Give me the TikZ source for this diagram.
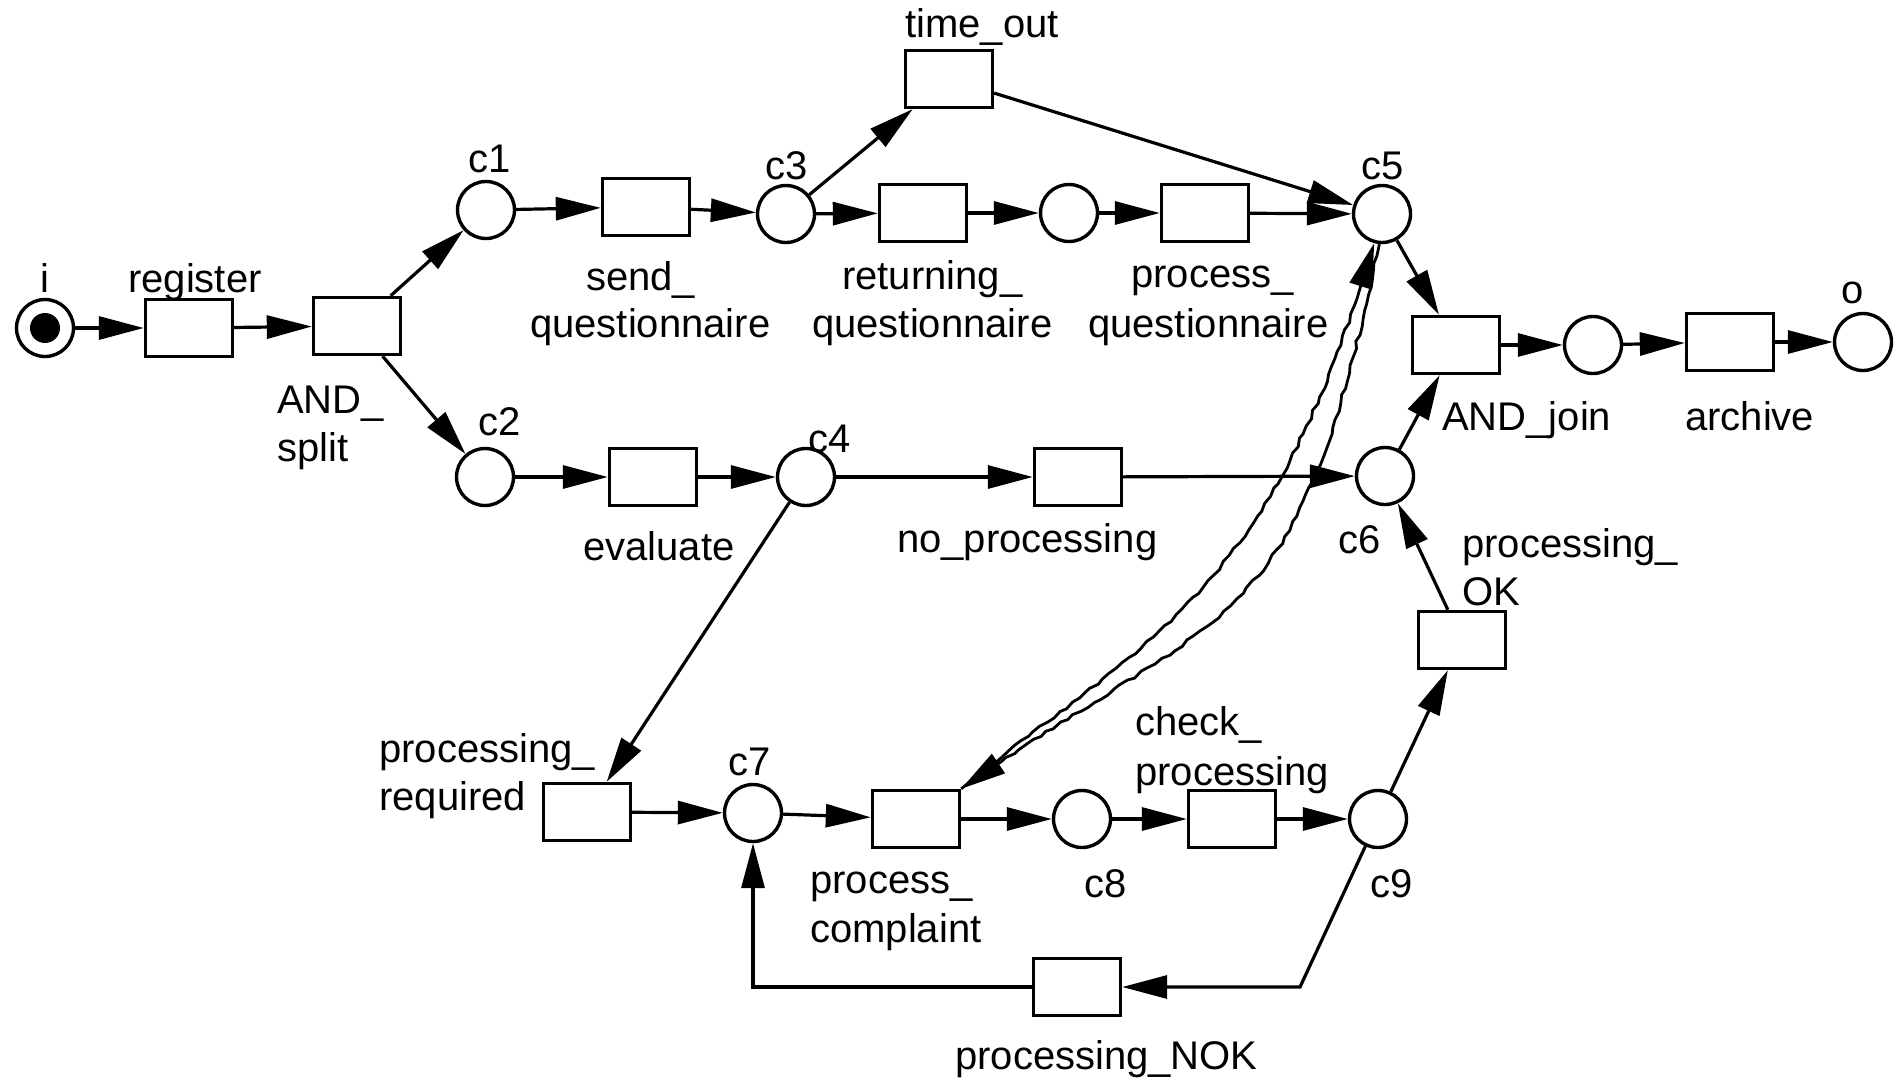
\documentclass[tikz,border=0pt]{standalone}
\usepackage{fontspec}
\setmainfont{Liberation Sans}
\usetikzlibrary{arrows.meta,decorations.pathmorphing}
\begin{document}
\begin{tikzpicture}[x=1pt,y=-1pt,
  every node/.style={font=\fontsize{40}{48}\selectfont},
  place/.style={circle, draw, line width=3.4pt, minimum size=57pt, inner sep=0pt},
  trans/.style={rectangle, draw, line width=3.4pt, minimum width=87pt, minimum height=57pt, inner sep=0pt},
  token/.style={circle, fill=black, minimum size=30pt, inner sep=0pt},
  lbl/.style={inner sep=0pt, anchor=base west},
  lblc/.style={inner sep=0pt, anchor=base},
  lble/.style={inner sep=0pt, anchor=base east},
  flow/.style={line width=3.2pt, -{Triangle[length=45pt,width=23pt]}},
  wavy/.style={line width=2.8pt, decorate,
    decoration={random steps, segment length=8pt, amplitude=1.5pt, pre length=12pt, post length=50pt}}
]
\pgfmathsetseed{11}
\useasboundingbox (0,0) rectangle (1898,1079);

% places
\node[place] (i) at (45,328) {};
\node[token] (tok) at (45,328) {};
\node[place] (c1) at (486,210) {};
\node[place] (c3) at (786,214) {};
\node[place] (pm) at (1069,213) {};
\node[place] (c5) at (1382,214) {};
\node[place] (c2) at (485,477) {};
\node[place] (c4) at (806,477) {};
\node[place] (c6) at (1385,476) {};
\node[place] (pj) at (1593,345) {};
\node[place] (o) at (1863,342) {};
\node[place] (c7) at (753,813) {};
\node[place] (c8) at (1082,819) {};
\node[place] (c9) at (1378,819) {};

% transitions
\node[trans] (register) at (189,328) {};
\node[trans] (andsplit) at (357,326) {};
\node[trans] (sendq) at (646,207) {};
\node[trans] (timeout) at (949,79) {};
\node[trans] (retq) at (923,213) {};
\node[trans] (procq) at (1205,213) {};
\node[trans] (andjoin) at (1456,345) {};
\node[trans] (archive) at (1730,342) {};
\node[trans] (evaluate) at (653,477) {};
\node[trans] (noproc) at (1078,477) {};
\node[trans] (pok) at (1462,640) {};
\node[trans] (preq) at (587,812) {};
\node[trans] (pc) at (916,819) {};
\node[trans] (check) at (1232,819) {};
\node[trans] (pnok) at (1077,987) {};

% labels
\node[lblc] (l_i) at (45,292) {i};
\node[lbl] (l_reg) at (128,292) {register};
\node[lbl] (l_as1) at (277,413) {AND\_};
\node[lbl] (l_as2) at (277,461) {split};
\node[lblc] (l_c1) at (490,172) {c1};
\node[lbl] (l_sq1) at (586,290) {send\_};
\node[lbl] (l_sq2) at (530,337) {questionnaire};
\node[lblc] (l_c3) at (787,179) {c3};
\node[lbl] (l_to) at (905,37) {time\_out};
\node[lbl] (l_rq1) at (842,289) {returning\_};
\node[lbl] (l_rq2) at (812,337) {questionnaire};
\node[lbl] (l_pq1) at (1131,287) {process\_};
\node[lbl] (l_pq2) at (1088,337) {questionnaire};
\node[lblc] (l_c5) at (1383,179) {c5};
\node[lblc] (l_o) at (1853,303) {o};
\node[lbl] (l_aj) at (1442,430) {AND\_join};
\node[lbl] (l_ar) at (1685,430) {archive};
\node[lblc] (l_c2) at (500,435) {c2};
\node[lbl] (l_c4) at (808,452) {c4};
\node[lbl] (l_ev) at (583,560) {evaluate};
\node[lbl] (l_np) at (897,552) {no\_processing};
\node[lble] (l_c6) at (1381,553) {c6};
\node[lbl] (l_ok1) at (1462,557) {processing\_};
\node[lbl] (l_ok2) at (1462,605) {OK};
\node[lbl] (l_pr1) at (379,762) {processing\_};
\node[lbl] (l_pr2) at (379,810) {required};
\node[lblc] (l_c7) at (750,775) {c7};
\node[lbl] (l_pc1) at (810,893) {process\_};
\node[lbl] (l_pc2) at (810,942) {complaint};
\node[lblc] (l_c8) at (1106,897) {c8};
\node[lbl] (l_ck1) at (1135,735) {check\_};
\node[lbl] (l_ck2) at (1135,785) {processing};
\node[lblc] (l_c9) at (1392,897) {c9};
\node[lbl] (l_nok) at (955,1069) {processing\_NOK};

% connectors
\draw[flow] (i) -- (register);
\draw[flow] (register) -- (andsplit);
\draw[flow] (andsplit) -- (c1);
\draw[flow] (andsplit) -- (c2);
\draw[flow] (c1) -- (sendq);
\draw[flow] (sendq) -- (c3);
\draw[flow] (c3) -- (timeout);
\draw[flow] (c3) -- (retq);
\draw[flow] (retq) -- (pm);
\draw[flow] (pm) -- (procq);
\draw[flow] (procq) -- (c5);
\draw[flow] (timeout) -- (c5);
\draw[flow] (c5) -- (andjoin);
\draw[flow] (andjoin) -- (pj);
\draw[flow] (pj) -- (archive);
\draw[flow] (archive) -- (o);
\draw[flow] (c2) -- (evaluate);
\draw[flow] (evaluate) -- (c4);
\draw[flow] (c4) -- (noproc);
\draw[flow] (noproc) -- (c6);
\draw[flow] (c6) -- (andjoin);
\draw[flow] (c4) -- (preq);
\draw[flow] (preq) -- (c7);
\draw[flow] (c7) -- (pc);
\draw[flow] (pc) -- (c8);
\draw[flow] (c8) -- (check);
\draw[flow] (check) -- (c9);
\draw[flow] (c9) -- (pok);
\draw[flow] (pok) -- (c6);
\coordinate (nokcorner) at (1300,987);
\draw[flow] (c9) -- (nokcorner) -- (pnok);
\draw[flow] (pnok) -| (c7);

% double wavy arcs between process_complaint and c5
\draw[flow, wavy] (pc.north east) .. controls (1155,632) and (1268,597) .. (c5.-105);
\draw[flow, wavy] (c5.-95) .. controls (1297,641) and (1232,601) .. (pc.north east);
\end{tikzpicture}
\end{document}
